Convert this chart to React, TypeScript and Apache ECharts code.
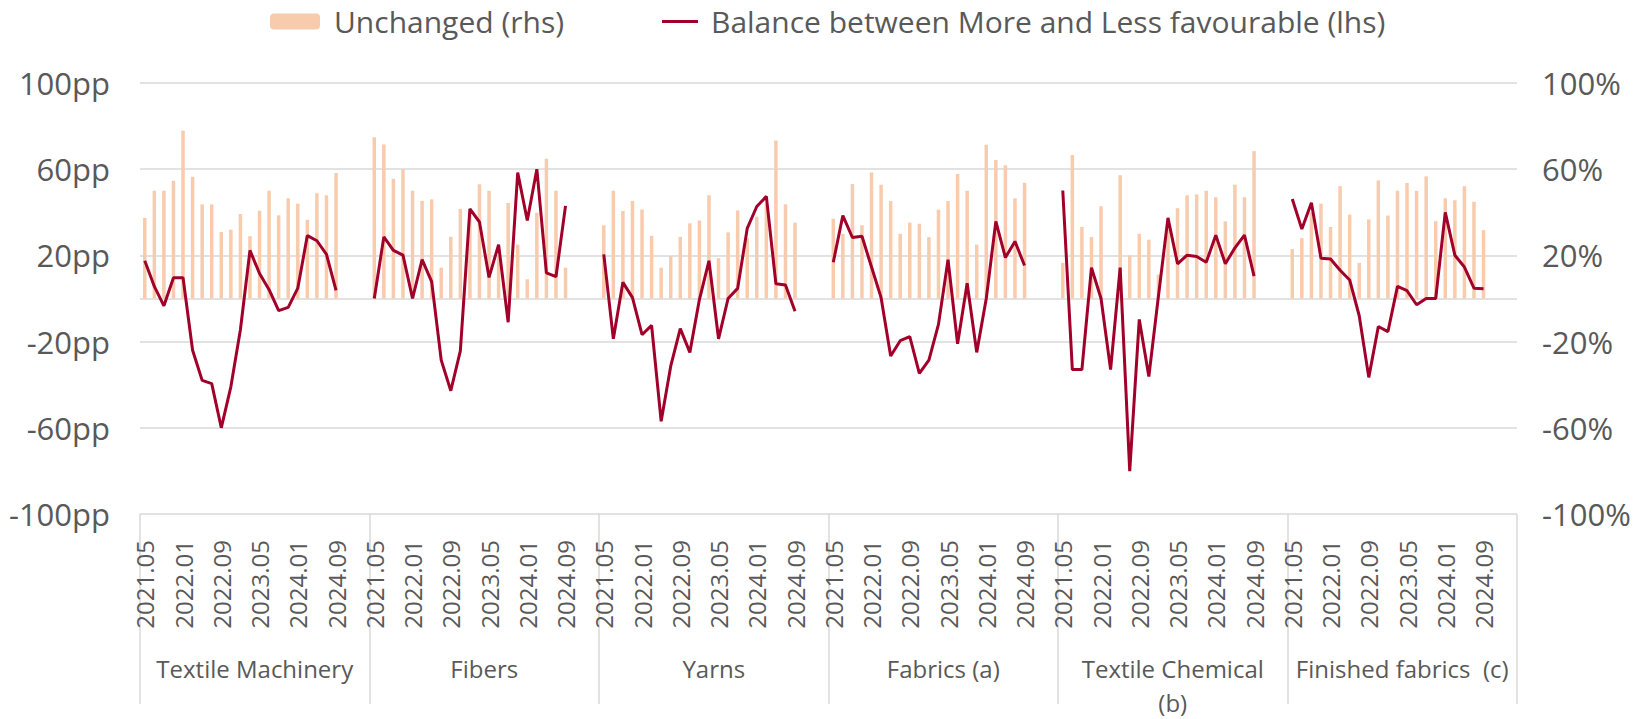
import React, { useEffect, useRef } from "react";
import * as echarts from "echarts";

const dates = [
  "2021.05", "2021.07", "2021.09", "2021.11", "2022.01", "2022.03", "2022.05",
  "2022.07", "2022.09", "2022.11", "2023.01", "2023.03", "2023.05", "2023.07",
  "2023.09", "2023.11", "2024.01", "2024.03", "2024.05", "2024.07", "2024.09",
];

const groups = [
  "Textile Machinery",
  "Fibers",
  "Yarns",
  "Fabrics (a)",
  "Textile Chemical\n(b)",
  "Finished fabrics  (c)",
];

// Balance between More and Less favourable (lhs, pp)
const tmBalance = [17.5, 5.6, -3.4, 9.6, 9.6, -24, -38, -39.5, -60, -41, -14.5, 22.3, 11.6, 4.1, -5.6, -4.1, 4.8, 29.2, 26.8, 20.5, 3.8];
const fibersBalance = [0, 28.6, 22.3, 20.1, 0, 18, 7.8, -28.6, -42.8, -24.3, 41.6, 35.5, 9.8, 25, -11, 58.4, 36.2, 60, 11.9, 10.1, 43];
const yarnsBalance = [20.5, -18.7, 7.5, 0.4, -16.8, -12.5, -57, -31.4, -14, -25, -0.5, 17.5, -18.7, 0, 4.7, 32.5, 42.7, 47.4, 6.8, 6.3, -5.9];
const fabricsBalance = [16.8, 38.5, 28.3, 28.9, 14.6, 0.4, -26.7, -19.6, -17.7, -34.8, -28.6, -12, 18, -21, 7.1, -25, 0, 35.8, 19, 26.5, 15.3];
const chemBalance = [50.1, -33, -33, 14.3, 0, -33, 14.3, -80.1, -9.7, -36.2, 1, 37.4, 16.1, 20.1, 19.5, 16.8, 29.4, 16.1, 23.5, 29.4, 10.4];
const finishedBalance = [46.2, 32.2, 44.4, 18.7, 18.3, 13.1, 8.6, -8, -36.6, -13, -15.4, 5.6, 3.6, -2.9, 0, 0, 40, 20.1, 14.6, 4.8, 4.5];

// Unchanged (rhs, %)
const tmUnchanged = [37.4, 50, 50, 54.6, 77.9, 56.5, 43.7, 43.7, 30.9, 31.9, 39.2, 28.9, 40.7, 50, 38.6, 46.5, 44, 36.5, 48.9, 47.9, 58.2];
const fibersUnchanged = [74.8, 71.5, 55.5, 59.9, 50, 45.3, 46, 14.3, 28.6, 41.6, 40, 53, 50, 20, 44.3, 25, 8.9, 39.8, 64.8, 50, 14.3];
const yarnsUnchanged = [34, 50, 40.6, 45.3, 41.3, 29.1, 14.3, 19.8, 28.6, 34.9, 36.2, 47.9, 18.7, 30.7, 40.9, 28, 38, 44, 73.3, 43.7, 35.2];
const fabricsUnchanged = [37, 30, 53.1, 34, 58.5, 52.8, 45.2, 30, 35.2, 34.7, 28.5, 41.2, 45.2, 57.8, 50, 25, 71.4, 64.3, 61.8, 46.5, 53.7];
const chemUnchanged = [16.5, 66.6, 33.2, 28.5, 42.8, null, 57.2, 19.9, 30, 27.3, 11.1, 36, 41.9, 47.9, 48.3, 50, 47, 35.8, 52.8, 47, 68.4];
const finishedUnchanged = [22.9, 28, 40, 44, 33.2, 52.1, 38.9, 16.5, 36.7, 54.8, 38.5, 50, 53.6, 50, 56.7, 35.9, 46.5, 45.6, 52.1, 44.9, 31.7];

const yTicks = { min: -100, max: 100, interval: 40 };
const GAP = 3;

const balanceSets = [tmBalance, fibersBalance, yarnsBalance, fabricsBalance, chemBalance, finishedBalance];
const unchangedSets = [tmUnchanged, fibersUnchanged, yarnsUnchanged, fabricsUnchanged, chemUnchanged, finishedUnchanged];

function flatten(sets: (number | null)[][]): (number | null)[] {
  const out: (number | null)[] = [];
  sets.forEach((s) => {
    s.forEach((v) => out.push(v));
    for (let k = 0; k < GAP; k++) out.push(null);
  });
  return out;
}

const categories: string[] = [];
groups.forEach(() => {
  dates.forEach((d) => categories.push(d));
  for (let k = 0; k < GAP; k++) categories.push("");
});

const FONT = "'Open Sans', 'Noto Sans', sans-serif";
const TXT = "#595959";
const GRIDC = "#D9D9D9";
const LINEC = "#A0002A";

export default function App() {
  const ref = useRef<HTMLDivElement>(null);
  useEffect(() => {
    if (!ref.current) return;
    const chart = echarts.init(ref.current, undefined, { renderer: "svg" });
    const per = dates.length + GAP;
    chart.setOption({
      animation: false,
      textStyle: { fontFamily: FONT },
      legend: [
        {
          data: ["Unchanged (rhs)"],
          left: 270,
          top: 6.5,
          padding: 0,
          itemWidth: 50,
          itemHeight: 16,
          textStyle: { fontSize: 30, color: TXT, fontFamily: FONT, padding: [0, 0, 0, 9] },
        },
        {
          data: [
            {
              name: "Balance between More and Less favourable (lhs)",
              icon: "rect",
              itemStyle: { color: LINEC },
            },
          ],
          left: 662,
          top: 6.5,
          padding: 0,
          itemWidth: 36,
          itemHeight: 3,
          textStyle: { fontSize: 30, color: TXT, fontFamily: FONT, padding: [0, 0, 0, 8] },
        },
      ],
      grid: { left: 140, right: 130, top: 83, bottom: 190, containLabel: false },
      xAxis: [
        {
          type: "category",
          position: "bottom",
          data: categories,
          boundaryGap: true,
          axisLine: { show: false, onZero: false },
          axisTick: { show: false },
          splitLine: { show: false },
          axisLabel: {
            rotate: 90,
            margin: 26,
            fontSize: 24,
            color: TXT,
            fontFamily: FONT,
            interval: (index: number) => {
              const i = index % per;
              return i < dates.length && i % 4 === 0;
            },
          },
        },
        {
          type: "category",
          position: "bottom",
          data: groups,
          boundaryGap: true,
          axisLine: { show: false, onZero: false },
          axisTick: { show: true, length: 190, lineStyle: { color: GRIDC, width: 1.5 } },
          splitLine: { show: false },
          axisLabel: {
            margin: 137,
            fontSize: 24,
            lineHeight: 34,
            color: TXT,
            fontFamily: FONT,
            interval: 0,
          },
        },
      ],
      yAxis: [
        {
          type: "value",
          position: "left",
          ...yTicks,
          axisLine: { show: false },
          axisTick: { show: false },
          splitLine: { show: true, lineStyle: { color: GRIDC, width: 1.5 } },
          axisLabel: { formatter: "{value}pp", fontSize: 31, color: TXT, margin: 30, fontFamily: FONT },
        },
        {
          type: "value",
          position: "right",
          ...yTicks,
          axisLine: { show: false },
          axisTick: { show: false },
          splitLine: { show: false },
          axisLabel: { formatter: "{value}%", fontSize: 31, color: TXT, margin: 25, fontFamily: FONT },
        },
      ],
      series: [
        {
          name: "Unchanged (rhs)",
          type: "bar",
          xAxisIndex: 0,
          yAxisIndex: 1,
          data: flatten(unchangedSets),
          barWidth: 3.5,
          itemStyle: { color: "#F8CBAD" },
        },
        {
          name: "Balance between More and Less favourable (lhs)",
          type: "line",
          xAxisIndex: 0,
          yAxisIndex: 0,
          data: flatten(balanceSets),
          symbol: "none",
          showSymbol: false,
          connectNulls: false,
          lineStyle: { color: LINEC, width: 3 },
          itemStyle: { color: LINEC },
          markLine: {
            silent: true,
            symbol: ["none", "none"],
            label: { show: false },
            lineStyle: { color: GRIDC, type: "solid", width: 1.5 },
            data: [{ yAxis: 0 }],
            z: 1,
          },
        },
      ],
    });
    return () => chart.dispose();
  }, []);
  return (
    <div
      ref={ref}
      style={{ position: "absolute", left: 0, top: 0, width: 1647, height: 719 }}
    />
  );
}
